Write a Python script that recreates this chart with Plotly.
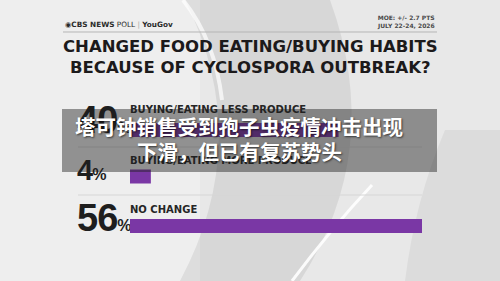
import plotly.graph_objects as go

# ---- data ----
categories = ["BUYING/EATING LESS PRODUCE", "BUYING/EATING MORE PRODUCE", "NO CHANGE"]
values = [40, 4, 56]
value_labels = ["40%", "4%", "56%"]
title_lines = ["CHANGED FOOD EATING/BUYING HABITS", "BECAUSE OF CYCLOSPORA OUTBREAK?"]
moe_lines = ["MOE: +/- 2.7 PTS", "JULY 22-24, 2026"]
overlay_lines = ["塔可钟销售受到孢子虫疫情冲击出现", "下滑，但已有复苏势头"]

# ---- layout helpers (pixel-space positions) ----
W, H = 500, 281
bar_left, bar_right = 130, 422
bar_y = [130, 176.5, 226]
label_y = [110.5, 161, 210]
num_y = [123, 173, 221]
num_sizes = [38, 29, 38]

fig = go.Figure()

fig.add_trace(go.Bar(
    x=values, y=bar_y, orientation="h", width=14,
    xaxis="x2", yaxis="y",
    marker=dict(color="#7a37a5", line=dict(width=0)),
    hoverinfo="skip", showlegend=False,
))

fig.add_trace(go.Scatter(
    x=[bar_left] * 3, y=label_y, mode="text", text=categories,
    textposition="middle right", xaxis="x", yaxis="y",
    textfont=dict(family="DejaVu Sans", size=10, color="#262626", weight="bold"),
    hoverinfo="skip", showlegend=False, cliponaxis=False,
))

num_text = [
    f"<span style='letter-spacing:-1px'>{lbl[:-1]}</span>"
    f"<span style='font-size:16px'>%</span>"
    for lbl in value_labels
]
fig.add_trace(go.Scatter(
    x=[77] * 3, y=num_y, mode="text", text=num_text,
    textposition="middle right", xaxis="x", yaxis="y",
    textfont=dict(family="Liberation Sans, Arial", size=num_sizes, color="#1e1e1e",
                  weight="bold"),
    hoverinfo="skip", showlegend=False, cliponaxis=False,
))

shapes = []
shapes.append(dict(type="rect", xref="x", yref="y", x0=0, y0=0, x1=200, y1=281,
                   fillcolor="rgba(255,255,255,0.25)", line=dict(width=0), layer="below"))
shapes.append(dict(type="path", xref="x", yref="y",
                   path="M 185 0 Q 255 140 180 281 L 300 281 Q 385 150 330 0 Z",
                   fillcolor="rgba(0,0,0,0.07)", line=dict(width=0), layer="below"))
shapes.append(dict(type="path", xref="x", yref="y",
                   path="M 372 185 Q 330 230 292 281", fillcolor="rgba(0,0,0,0)",
                   line=dict(color="rgba(255,255,255,0.9)", width=3), layer="below"))
shapes.append(dict(type="path", xref="x", yref="y",
                   path="M 183 0 Q 215 40 222 100", fillcolor="rgba(0,0,0,0)",
                   line=dict(color="rgba(255,255,255,0.7)", width=4), layer="below"))
shapes.append(dict(type="path", xref="x", yref="y",
                   path="M 445 130 Q 415 200 405 281 L 500 281 L 500 130 Z",
                   fillcolor="rgba(0,0,0,0.05)", line=dict(width=0), layer="below"))
shapes.append(dict(type="line", xref="x", yref="y", x0=63, x1=437, y0=32, y1=32,
                   line=dict(color="#b5b5b5", width=1), layer="below"))
for ys in [147, 195]:
    shapes.append(dict(type="line", xref="x", yref="y", x0=78, x1=422, y0=ys, y1=ys,
                       line=dict(color="#d6d6d6", width=1), layer="below"))
shapes.append(dict(type="rect", xref="x", yref="y", x0=62, x1=437, y0=109, y1=172,
                   fillcolor="rgba(30,30,30,0.45)", line=dict(width=0), layer="above"))

cjk_font = dict(family="Noto Sans CJK SC", size=20.5, color="#ffffff", weight="bold",
                shadow="1px 1px 2px rgba(0,0,0,0.6)")
annotations = [
    dict(xref="x", yref="y", x=63, y=24, xanchor="left", yanchor="middle", showarrow=False,
         text="<b>◉CBS NEWS</b> POLL <span style='color:#aaaaaa'>|</span> <b>YouGov</b>",
         font=dict(family="DejaVu Sans", size=7.3, color="#2a2a2a")),
    dict(xref="x", yref="y", x=437, y=21.5, xanchor="right", yanchor="middle", showarrow=False,
         align="right", text="<br>".join(moe_lines),
         font=dict(family="DejaVu Sans", size=6, color="#4a4a4a", weight="bold")),
    dict(xref="x", yref="y", x=250, y=57, xanchor="center", yanchor="middle", showarrow=False,
         align="center", text="<br>".join(title_lines),
         font=dict(family="DejaVu Sans", size=16.5, color="#1c1a1b", weight="bold")),
    dict(xref="x", yref="y", x=239, y=126, xanchor="center", yanchor="middle", showarrow=False,
         text=overlay_lines[0], font=cjk_font),
    dict(xref="x", yref="y", x=239, y=151, xanchor="center", yanchor="middle", showarrow=False,
         text=overlay_lines[1], font=cjk_font),
]

fig.update_layout(
    width=W, height=H, margin=dict(l=0, r=0, t=0, b=0),
    paper_bgcolor="#e8e8e8", plot_bgcolor="rgba(0,0,0,0)",
    xaxis=dict(domain=[0, 1], range=[0, W], visible=False, fixedrange=True),
    xaxis2=dict(domain=[bar_left / W, bar_right / W], range=[0, 56], visible=False,
                anchor="y", fixedrange=True),
    yaxis=dict(domain=[0, 1], range=[H, 0], visible=False, fixedrange=True),
    shapes=shapes, annotations=annotations, showlegend=False,
)

fig.write_html("out.html")
